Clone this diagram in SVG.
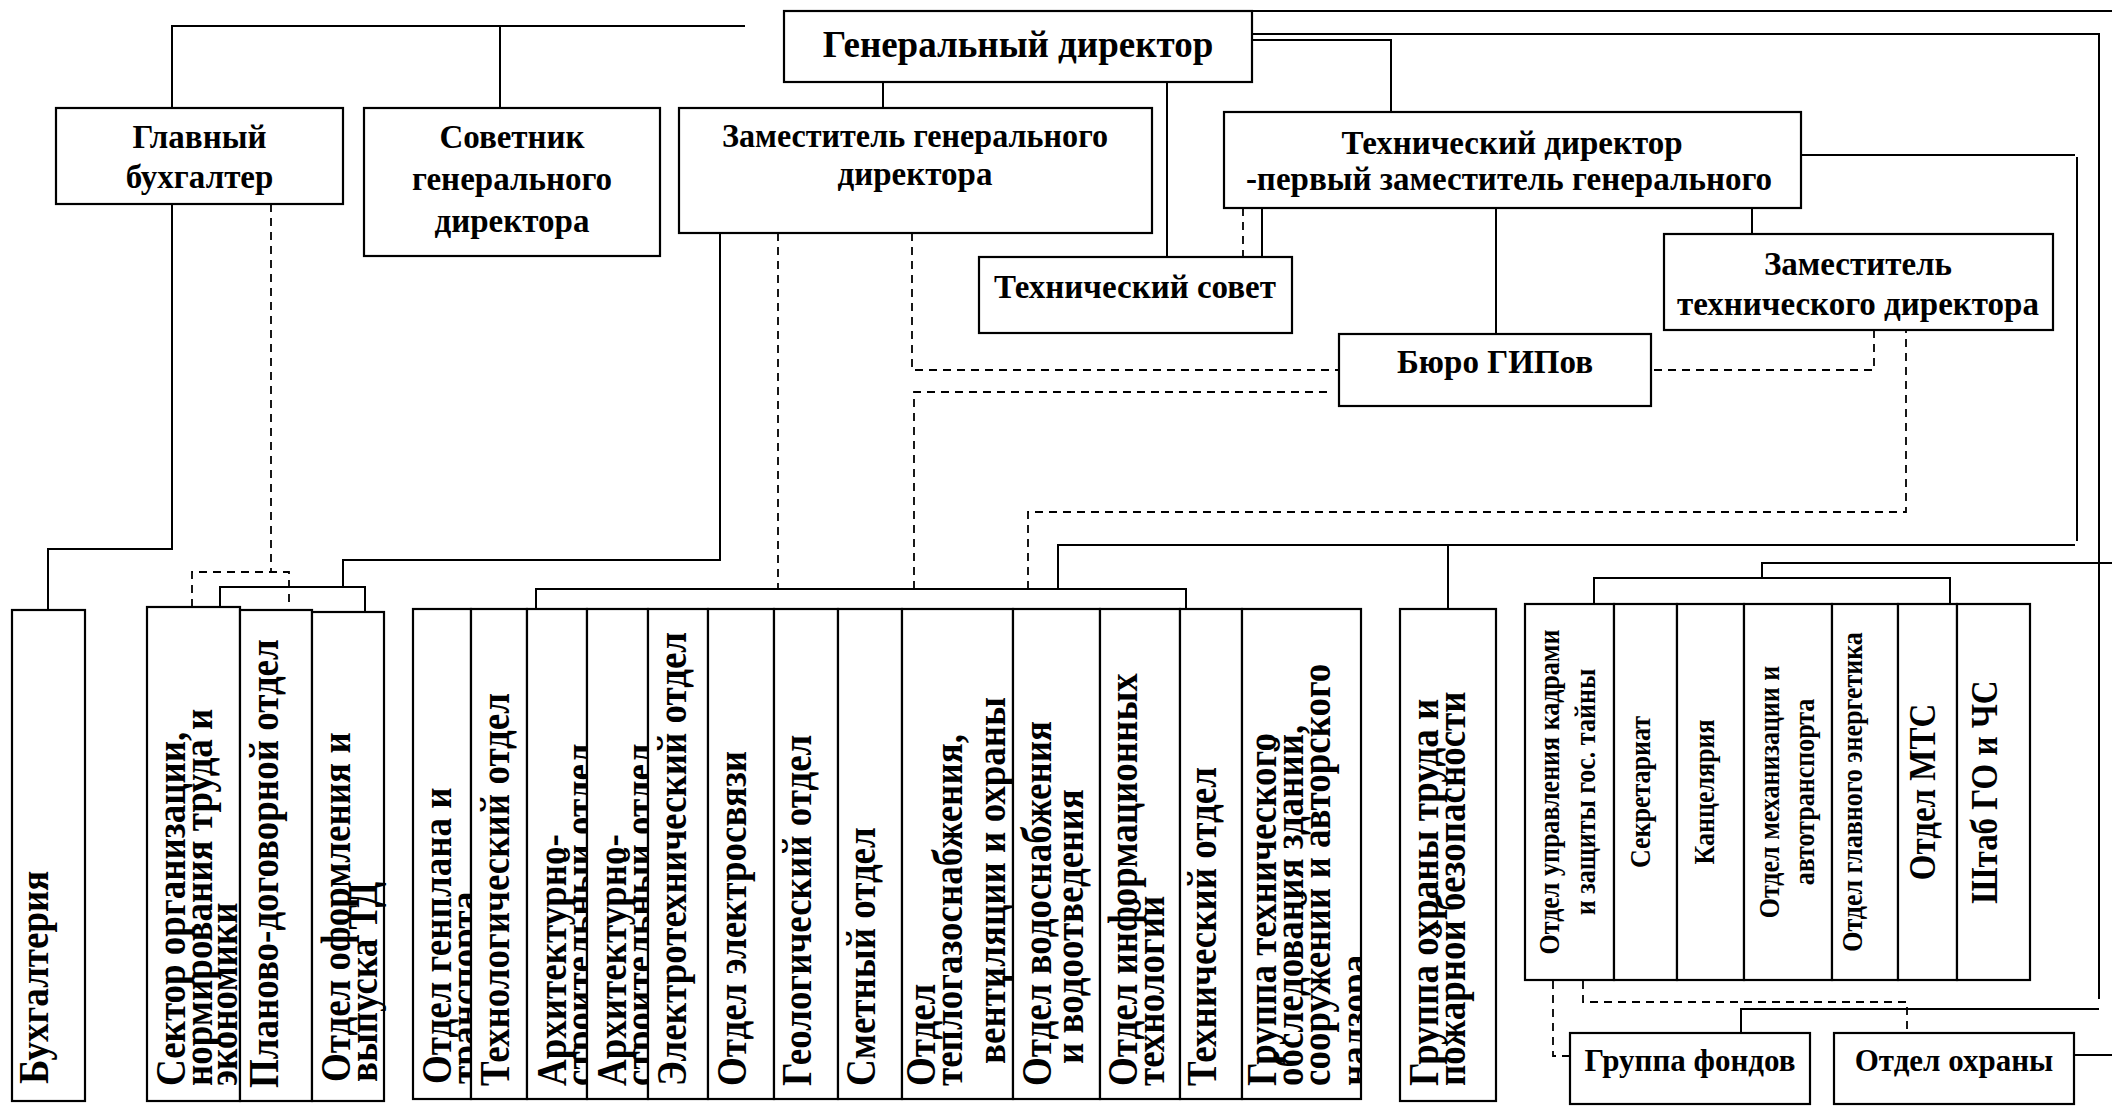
<svg xmlns="http://www.w3.org/2000/svg" width="2112" height="1106" viewBox="0 0 2112 1106">
<style>
.box{fill:#fff;stroke:#000;stroke-width:2.2}
.ln{fill:none;stroke:#000;stroke-width:2}
.dash{fill:none;stroke:#000;stroke-width:1.8;stroke-dasharray:8 6}
.t{font-family:"Liberation Serif","Times New Roman",serif;font-weight:bold;fill:#000}
.h{font-size:33px;text-anchor:middle}
.hg{font-size:37px;text-anchor:middle}
.v{font-size:37px}
.vs{font-size:26px;text-anchor:middle}
.vm{font-size:33px;text-anchor:middle}
</style>
<defs>
<clipPath id="cpSek"><rect x="148" y="607" width="91" height="494"/></clipPath>
<clipPath id="cpGen"><rect x="414" y="609" width="56" height="490"/></clipPath>
<clipPath id="cpA1"><rect x="528" y="609" width="58" height="490"/></clipPath>
<clipPath id="cpA2"><rect x="588" y="609" width="59" height="490"/></clipPath>
<clipPath id="cpTep"><rect x="903" y="609" width="109" height="490"/></clipPath>
<clipPath id="cpGrT"><rect x="1243" y="609" width="117" height="490"/></clipPath>
</defs>
<rect width="2112" height="1106" fill="#fff"/>
<g id="connectors">
<path class="ln" d="M172,108 V26 H745"/>
<path class="ln" d="M500,26 V108"/>
<path class="ln" d="M883,82 V108"/>
<path class="ln" d="M1167,82 V257"/>
<path class="ln" d="M1230,11 H2112"/>
<path class="ln" d="M1252,34 H2099 V999"/>
<path class="ln" d="M2099,1009 H1741 V1033"/>
<path class="ln" d="M1252,40 H1391 V112"/>
<path class="ln" d="M1801,155 H2075"/>
<path class="ln" d="M2077,157 V541"/>
<path class="ln" d="M2075,545 H1058 V589"/>
<path class="ln" d="M1448,545 V609"/>
<path class="ln" d="M2112,563 H1762 V578"/>
<path class="ln" d="M1594,604 V578 H1950 V604"/>
<path class="ln" d="M1262,208 V257"/>
<path class="dash" d="M1243,208 V257"/>
<path class="ln" d="M1496,208 V334"/>
<path class="ln" d="M1752,208 V234"/>
<path class="ln" d="M172,204 V549 H48 V610"/>
<path class="ln" d="M720,233 V560 H343 V587"/>
<path class="ln" d="M220,607 V587 H365 V612"/>
<path class="ln" d="M536,609 V589 H1186 V609"/>
<path class="ln" d="M2074,1055 H2112"/>
<path class="dash" d="M271,204 V572"/>
<path class="dash" d="M192,607 V572 H289 V607"/>
<path class="dash" d="M778,233 V589"/>
<path class="dash" d="M912,233 V370 H1339"/>
<path class="dash" d="M914,589 V392 H1333"/>
<path class="dash" d="M1028,589 V512 H1906 V330"/>
<path class="dash" d="M1874,330 V370 H1651"/>
<path class="dash" d="M1553,981 V1056 H1570"/>
<path class="dash" d="M1583,981 V1002 H1907 V1033"/>
</g>
<g id="gen-dir"><rect class="box" x="784" y="11" width="468" height="71"/><text class="t hg" x="1018" y="57">Генеральный директор</text></g>
<g id="glav-buh"><rect class="box" x="56" y="108" width="287" height="96"/><text class="t h" x="199.5" y="148">Главный</text><text class="t h" x="199.5" y="188">бухгалтер</text></g>
<g id="sovetnik"><rect class="box" x="364" y="108" width="296" height="148"/><text class="t h" x="512" y="148">Советник</text><text class="t h" x="512" y="190">генерального</text><text class="t h" x="512" y="232">директора</text></g>
<g id="zam-gen"><rect class="box" x="679" y="108" width="473" height="125"/><text class="t h" x="915" y="147" textLength="386" lengthAdjust="spacingAndGlyphs">Заместитель генерального</text><text class="t h" x="915" y="185">директора</text></g>
<g id="tech-sovet"><rect class="box" x="979" y="257" width="313" height="76"/><text class="t h" x="1135" y="298">Технический совет</text></g>
<g id="tech-dir"><rect class="box" x="1224" y="112" width="577" height="96"/><text class="t h" x="1512" y="154">Технический директор</text><text class="t h" x="1509" y="190">-первый заместитель генерального</text></g>
<g id="zam-tech"><rect class="box" x="1664" y="234" width="389" height="96"/><text class="t h" x="1858" y="275">Заместитель</text><text class="t h" x="1858" y="315">технического директора</text></g>
<g id="buro-gip"><rect class="box" x="1339" y="334" width="312" height="72"/><text class="t h" x="1495" y="373">Бюро ГИПов</text></g>
<g id="buhgalteria"><rect class="box" x="12" y="610" width="73" height="491"/><text class="t v" transform="translate(48,1084) rotate(-90) scale(1,1.12)">Бухгалтерия</text></g>
<g id="sektor"><rect class="box" x="147" y="607" width="93" height="494"/><g clip-path="url(#cpSek)"><text class="t v" transform="translate(185,1086) rotate(-90) scale(1,1.12)"><tspan x="0" y="0">Сектор организации,</tspan><tspan x="0" y="24.1">нормирования труда и</tspan><tspan x="0" y="46.4">экономики</tspan></text></g></g>
<g id="planovo"><rect class="box" x="240" y="610" width="72" height="491"/><text class="t v" transform="translate(278,1088) rotate(-90) scale(1,1.12)">Планово-договорной отдел</text></g>
<g id="oformlenie"><rect class="box" x="312" y="612" width="72" height="489"/><text class="t v" transform="translate(350,1082) rotate(-90) scale(1,1.12)"><tspan x="0" y="0">Отдел оформления и</tspan><tspan x="0" y="24.1">выпуска ТД</tspan></text></g>
<g id="genplan"><rect class="box" x="413" y="609" width="58" height="490"/><g clip-path="url(#cpGen)"><text class="t v" transform="translate(451,1084) rotate(-90) scale(1,1.12)"><tspan x="0" y="0">Отдел генплана и</tspan><tspan x="0" y="24.1">транспорта</tspan></text></g></g>
<g id="tehnolog"><rect class="box" x="471" y="609" width="56" height="490"/><text class="t v" transform="translate(509,1086) rotate(-90) scale(1,1.12)">Технологический отдел</text></g>
<g id="arch1"><rect class="box" x="527" y="609" width="60" height="490"/><g clip-path="url(#cpA1)"><text class="t v" transform="translate(566,1086) rotate(-90) scale(1,1.12)"><tspan x="0" y="0">Архитектурно-</tspan><tspan x="0" y="24.1">строительный отдел</tspan></text></g></g>
<g id="arch2"><rect class="box" x="587" y="609" width="61" height="490"/><g clip-path="url(#cpA2)"><text class="t v" transform="translate(626,1086) rotate(-90) scale(1,1.12)"><tspan x="0" y="0">Архитектурно-</tspan><tspan x="0" y="24.1">строительный отдел</tspan></text></g></g>
<g id="elektrotech"><rect class="box" x="648" y="609" width="60" height="490"/><text class="t v" transform="translate(686,1086) rotate(-90) scale(1,1.12)">Электротехнический отдел</text></g>
<g id="elektrosvyaz"><rect class="box" x="708" y="609" width="66" height="490"/><text class="t v" transform="translate(746,1086) rotate(-90) scale(1,1.12)">Отдел электросвязи</text></g>
<g id="geolog"><rect class="box" x="774" y="609" width="64" height="490"/><text class="t v" transform="translate(811,1086) rotate(-90) scale(1,1.12)">Геологический отдел</text></g>
<g id="smetny"><rect class="box" x="838" y="609" width="64" height="490"/><text class="t v" transform="translate(875,1086) rotate(-90) scale(1,1.12)">Сметный отдел</text></g>
<g id="teplogaz"><rect class="box" x="902" y="609" width="111" height="490"/><g clip-path="url(#cpTep)"><text class="t v" transform="translate(935,1086) rotate(-90) scale(1,1.12)"><tspan x="0" y="0">Отдел</tspan><tspan x="0" y="24.1">теплогазоснабжения,</tspan><tspan x="22" y="62.5">вентиляции и охраны</tspan><tspan x="0" y="86.6">атмосферного воздуха</tspan></text></g></g>
<g id="vodosnab"><rect class="box" x="1013" y="609" width="87" height="490"/><text class="t v" transform="translate(1051,1086) rotate(-90) scale(1,1.12)"><tspan x="0" y="0">Отдел водоснабжения</tspan><tspan x="22" y="28.6">и водоотведения</tspan></text></g>
<g id="inform"><rect class="box" x="1100" y="609" width="80" height="490"/><text class="t v" transform="translate(1137,1086) rotate(-90) scale(1,1.12)"><tspan x="0" y="0">Отдел информационных</tspan><tspan x="0" y="24.1">технологий</tspan></text></g>
<g id="tech-otdel"><rect class="box" x="1180" y="609" width="62" height="490"/><text class="t v" transform="translate(1216,1086) rotate(-90) scale(1,1.12)">Технический отдел</text></g>
<g id="gr-tech"><rect class="box" x="1242" y="609" width="119" height="490"/><g clip-path="url(#cpGrT)"><text class="t v" transform="translate(1276,1086) rotate(-90) scale(1,1.12)"><tspan x="0" y="0">Группа технического</tspan><tspan x="0" y="24.1">обследования зданий,</tspan><tspan x="0" y="48.2">сооружений и авторского</tspan><tspan x="0" y="82">надзора</tspan></text></g></g>
<g id="gr-ohrana-truda"><rect class="box" x="1400" y="609" width="96" height="492"/><text class="t v" transform="translate(1438,1086) rotate(-90) scale(1,1.12)"><tspan x="0" y="0">Группа охраны труда и</tspan><tspan x="0" y="24.1">пожарной безопасности</tspan></text></g>
<g id="kadry"><rect class="box" x="1525" y="604" width="89" height="376"/><text class="t vs" transform="translate(1559,792) rotate(-90) scale(1,1.12)"><tspan x="0" y="0">Отдел управления кадрами</tspan><tspan x="0" y="32">и защиты гос. тайны</tspan></text></g>
<g id="sekretariat"><rect class="box" x="1614" y="604" width="63" height="376"/><text class="t vs" transform="translate(1650,792) rotate(-90) scale(1,1.12)">Секретариат</text></g>
<g id="kancelyaria"><rect class="box" x="1677" y="604" width="67" height="376"/><text class="t vs" transform="translate(1714,792) rotate(-90) scale(1,1.12)">Канцелярия</text></g>
<g id="mehaniz"><rect class="box" x="1744" y="604" width="88" height="376"/><text class="t vs" transform="translate(1779,792) rotate(-90) scale(1,1.12)"><tspan x="0" y="0">Отдел механизации и</tspan><tspan x="0" y="31">автотранспорта</tspan></text></g>
<g id="energetik"><rect class="box" x="1832" y="604" width="66" height="376"/><text class="t vs" transform="translate(1862,792) rotate(-90) scale(1,1.12)">Отдел главного энергетика</text></g>
<g id="mts"><rect class="box" x="1898" y="604" width="59" height="376"/><text class="t vm" transform="translate(1935,792) rotate(-90) scale(1,1.12)">Отдел МТС</text></g>
<g id="shtab"><rect class="box" x="1957" y="604" width="73" height="376"/><text class="t vm" transform="translate(1997,792) rotate(-90) scale(1,1.12)">Штаб ГО и ЧС</text></g>
<g id="gr-fondov"><rect class="box" x="1570" y="1033" width="240" height="71"/><text class="t" style="font-size:31px;text-anchor:middle" x="1690" y="1071">Группа фондов</text></g>
<g id="otdel-ohrany"><rect class="box" x="1834" y="1033" width="240" height="71"/><text class="t" style="font-size:31px;text-anchor:middle" x="1954" y="1071">Отдел охраны</text></g>
</svg>
